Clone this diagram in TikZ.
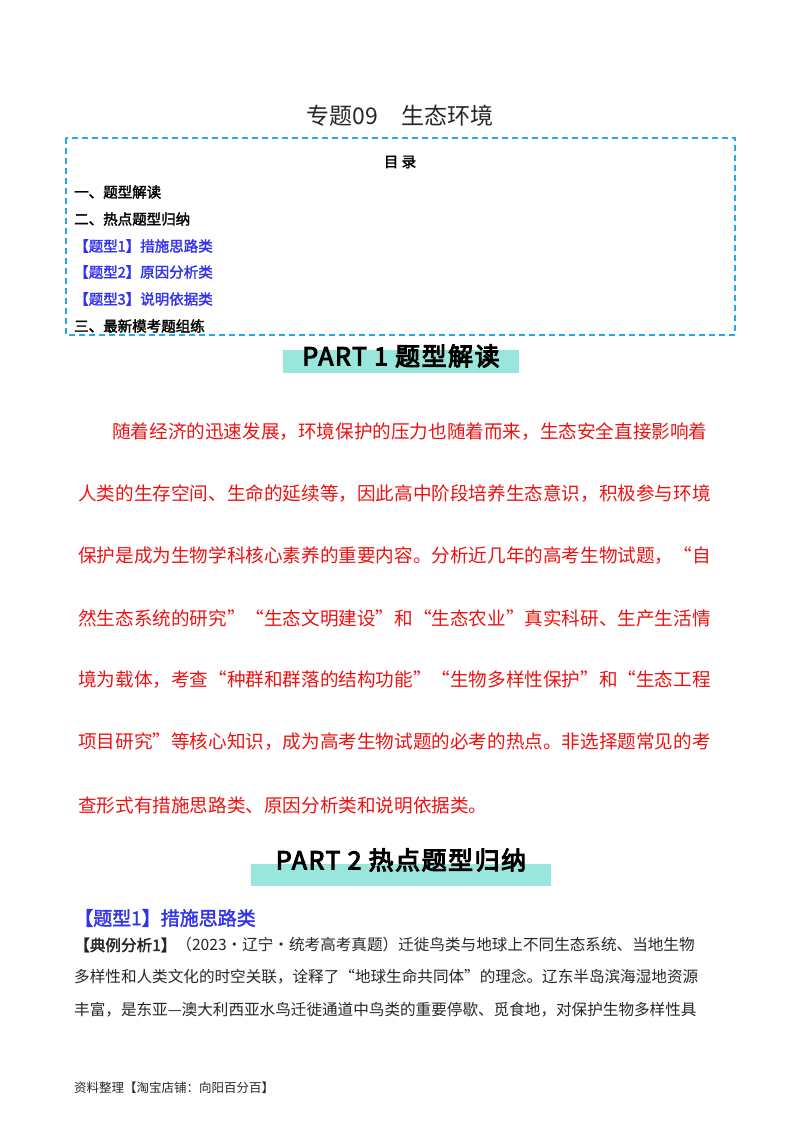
\documentclass[tikz,border=0pt]{standalone}
\usepackage{fontspec}
\setmainfont{Liberation Serif}
\newfontfamily\cjk{Noto Sans CJK SC}
\newfontfamily\cjkb{Noto Sans CJK SC}[FakeBold=2]
\newfontfamily\cjkh{Noto Sans CJK SC}[FakeBold=4, LetterSpace=6]
\usetikzlibrary{positioning}
\definecolor{tocblue}{HTML}{3333EE}
\definecolor{boxcyan}{HTML}{22AAEE}
\definecolor{bannerteal}{HTML}{99E6DD}
\definecolor{leadred}{HTML}{EE1111}
\tikzset{%
	title/.style    = {font=\cjk\fontsize{23}{26}\selectfont, text=black!85},
	toc/.style      = {anchor=west, inner sep=0pt, font=\cjkb\fontsize{14.5}{16}\selectfont},
	tocitem/.style  = {toc, text=tocblue},
	banner/.style   = {inner sep=0pt, font=\cjkh\fontsize{25}{28}\selectfont},
	lead/.style     = {anchor=west, inner sep=0pt, text=leadred, font=\cjk\fontsize{18.6}{20}\selectfont},
	body/.style     = {anchor=west, inner sep=0pt, text=black!85, font=\cjk\fontsize{15.6}{18}\selectfont},
}
\begin{document}
\begin{tikzpicture}[x=1pt,y=-1pt]
	\useasboundingbox (0,0) rectangle (800,1132);
	% heading and contents
	\node [title] (head) at (400,116) {专题09\quad 生态环境};
	\draw [boxcyan, line width=1.3pt, dash pattern=on 6pt off 4pt] (66,138) rectangle (735,335);
	\node [toc, anchor=center] (toc) at (400,162) {目\ 录};
	\node [toc] (t1) at (74,192) {一、题型解读};
	\node [toc] (t2) at (74,219) {二、热点题型归纳};
	\node [tocitem] (t3) at (74,246) {【题型1】措施思路类};
	\node [tocitem] (t4) at (74,272) {【题型2】原因分析类};
	\node [tocitem] (t5) at (74,299) {【题型3】说明依据类};
	\node [toc] (t6) at (74,326) {三、最新模考题组练};
	% part 1
	\fill [bannerteal] (283,350) rectangle (519,373);
	\node [banner] (p1) at (401,356) {PART 1 题型解读};
	\node [lead] (l1) at (112,432) {随着经济的迅速发展，环境保护的压力也随着而来，生态安全直接影响着};
	\node [lead] (l2) at (78,494) {人类的生存空间、生命的延续等，因此高中阶段培养生态意识，积极参与环境};
	\node [lead] (l3) at (78,556) {保护是成为生物学科核心素养的重要内容。分析近几年的高考生物试题，“自};
	\node [lead] (l4) at (78,618) {然生态系统的研究”“生态文明建设”和“生态农业”真实科研、生产生活情};
	\node [lead] (l5) at (78,680) {境为载体，考查“种群和群落的结构功能”“生物多样性保护”和“生态工程};
	\node [lead] (l6) at (78,742) {项目研究”等核心知识，成为高考生物试题的必考的热点。非选择题常见的考};
	\node [lead] (l7) at (78,805) {查形式有措施思路类、原因分析类和说明依据类。};
	% part 2
	\fill [bannerteal] (251,864) rectangle (551,886);
	\node [banner] (p2) at (401,860) {PART 2 热点题型归纳};
	\node [tocitem, font=\cjkb\fontsize{19}{22}\selectfont] (q1) at (74,918) {【题型1】措施思路类};
	\node [body] (b1) at (74,945) {{\cjkb【典例分析1】}（2023·辽宁·统考高考真题）迁徙鸟类与地球上不同生态系统、当地生物};
	\node [body] (b2) at (74,977) {多样性和人类文化的时空关联，诠释了“地球生命共同体”的理念。辽东半岛滨海湿地资源};
	\node [body] (b3) at (74,1010) {丰富，是东亚—澳大利西亚水鸟迁徙通道中鸟类的重要停歇、觅食地，对保护生物多样性具};
	\node [body, font=\cjk\fontsize{12.5}{14}\selectfont] (foot) at (74,1088) {资料整理【淘宝店铺：向阳百分百】};
\end{tikzpicture}
\end{document}
